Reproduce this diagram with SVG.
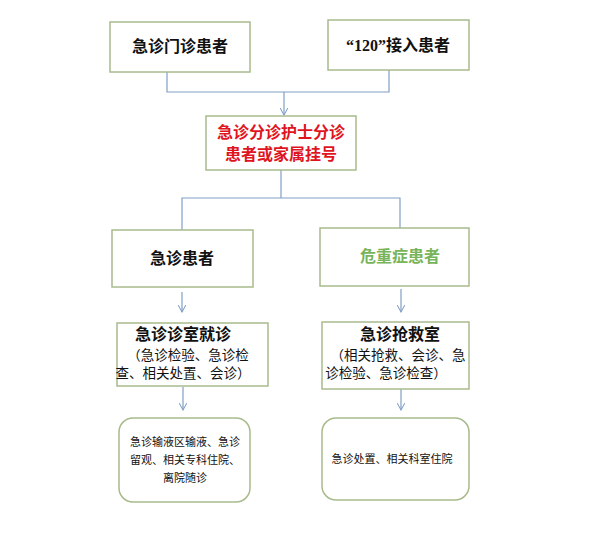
<svg xmlns="http://www.w3.org/2000/svg" width="607" height="550" viewBox="0 0 607 550">
<defs>
<marker id="ar" viewBox="0 0 10 10" refX="9" refY="5" markerWidth="8" markerHeight="8" orient="auto" markerUnits="userSpaceOnUse"><path d="M0,0 L9,5 L0,10" fill="none" stroke="#7f9fc6" stroke-width="1.3"/></marker>
<style>
.b{fill:#fff;stroke:#a8bb8c;stroke-width:1.5}
.c{fill:none;stroke:#7f9fc6;stroke-width:1.2}
.t{font-family:"Noto Sans CJK SC",sans-serif;text-anchor:middle;fill:#111}
.tb{font-weight:bold;font-size:16px}
.ts{font-size:13.5px}
.tx{font-size:11px}
.red{fill:#e0141e}
.grn{fill:#78b45a}
</style>
</defs>
<rect width="607" height="550" fill="#fff"/>
<g id="connectors">
<path class="c" d="M167,72 V92 H389 V70"/>
<path class="c" d="M284,92 V115" marker-end="url(#ar)"/>
<path class="c" d="M281,170 V198"/>
<path class="c" d="M182,230 V198 H400 V228"/>
<path class="c" d="M182,292 V312" marker-end="url(#ar)"/>
<path class="c" d="M401,289 V312" marker-end="url(#ar)"/>
<path class="c" d="M183,387 V410" marker-end="url(#ar)"/>
<path class="c" d="M401,389 V410" marker-end="url(#ar)"/>
</g>
<g id="n1"><rect class="b" x="110" y="22" width="140" height="50"/><text class="t tb" x="180" y="52">急诊门诊患者</text></g>
<g id="n2"><rect class="b" x="328" y="20" width="141" height="50"/><text class="t tb" x="398" y="51"><tspan font-family="Liberation Serif,serif">“120”</tspan>接入患者</text></g>
<g id="n3"><rect class="b" x="206" y="116" width="150" height="54"/><text class="t tb red" x="281" y="138">急诊分诊护士分诊</text><text class="t tb red" x="281" y="160">患者或家属挂号</text></g>
<g id="n4"><rect class="b" x="112" y="230" width="141" height="57"/><text class="t tb" x="182" y="264">急诊患者</text></g>
<g id="n5"><rect class="b" x="320" y="228" width="149" height="58"/><text class="t tb grn" x="400" y="262">危重症患者</text></g>
<g id="n6"><rect class="b" x="117" y="323" width="151" height="63"/><text class="t tb" x="183" y="340">急诊诊室就诊</text><text class="t ts" x="188" y="360">（急诊检验、急诊检</text><text class="t ts" x="183" y="378">查、相关处置、会诊）</text></g>
<g id="n7"><rect class="b" x="322" y="322" width="147" height="67"/><text class="t tb" x="400" y="340">急诊抢救室</text><text class="t ts" x="398" y="360">（相关抢救、会诊、急</text><text class="t ts" x="386" y="378">诊检验、急诊检查）</text></g>
<g id="n8"><rect class="b" x="119" y="418" width="131" height="84" rx="14"/><text class="t tx" x="185" y="446">急诊输液区输液、急诊</text><text class="t tx" x="185" y="464">留观、相关专科住院、</text><text class="t tx" x="185" y="482">离院随诊</text></g>
<g id="n9"><rect class="b" x="322" y="418" width="147" height="82" rx="14"/><text class="t tx" x="392" y="463">急诊处置、相关科室住院</text></g>
</svg>
